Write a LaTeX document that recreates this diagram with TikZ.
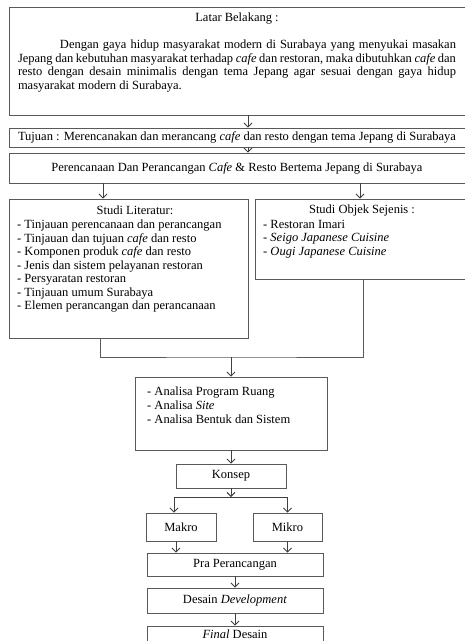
\documentclass[tikz,border=0pt]{standalone}
\usepackage{fontspec}
\setmainfont{Liberation Serif}
\usetikzlibrary{arrows.meta,positioning}

\begin{document}
\begin{tikzpicture}[
  x=1pt, y=-1pt,
  font=\fontsize{12.5}{13.5}\selectfont,
  box/.style={draw=black!65, line width=0.9pt, inner sep=0pt, fill=white},
  txt/.style={inner sep=0pt, align=left},
  arrow/.style={-{Straight Barb[length=4pt,width=8pt]}, line width=0.9pt, draw=black!75},
  link/.style={line width=0.9pt, draw=black!65}
]
\useasboundingbox (0,0) rectangle (465,641);

% latar belakang
\node[box, minimum width=456pt, minimum height=108pt] (latar) at (237,61) {};
\node[txt] (latartitle) at (237,19) {Latar Belakang :};
\node[inner sep=0pt, text width=438pt, align=justify] (latarpara) at (237,66)
  {\hspace*{42pt}Dengan gaya hidup masyarakat modern di Surabaya yang menyukai masakan\linebreak
   Jepang dan kebutuhan masyarakat terhadap \textit{cafe} dan restoran, maka dibutuhkan \textit{cafe} dan\linebreak
   resto dengan desain minimalis dengan tema Jepang agar sesuai dengan gaya hidup\linebreak
   masyarakat modern di Surabaya.};

\node[box, minimum width=456pt, minimum height=19pt] (tujuan) at (237,137.5)
  {Tujuan : Merencanakan dan merancang \textit{cafe} dan resto dengan tema Jepang di Surabaya};
\node[box, minimum width=456pt, minimum height=30pt] (judul) at (237,168)
  {Perencanaan Dan Perancangan \textit{Cafe} \& Resto Bertema Jepang di Surabaya};

\draw[arrow] ([xshift=11pt]latar.south) -- ([xshift=11pt]tujuan.north);
\draw[arrow] ([xshift=11pt]tujuan.south) -- ([xshift=11pt]judul.north);

% studi
\node[box, minimum width=239pt, minimum height=139pt] (literatur) at (128.5,268.5) {};
\node[txt] (littitle) at (135,210) {Studi Literatur:};
\node[txt, anchor=north west] (litlist) at (17,220)
  {- Tinjauan perencanaan dan perancangan\\
   - Tinjauan dan tujuan \textit{cafe} dan resto\\
   - Komponen produk \textit{cafe} dan resto\\
   - Jenis dan sistem pelayanan restoran\\
   - Persyaratan restoran\\
   - Tinjauan umum Surabaya\\
   - Elemen perancangan dan perancanaan};

\node[box, minimum width=210pt, minimum height=80pt] (objek) at (360,239) {};
\node[txt] (objtitle) at (362,210) {Studi Objek Sejenis :};
\node[txt, anchor=north west] (objlist) at (263,220)
  {- Restoran Imari\\
   \textit{- Seigo Japanese Cuisine}\\
   \textit{- Ougi Japanese Cuisine}};

\draw[arrow] ([xshift=-25.5pt]literatur.north |- judul.south) -- ([xshift=-25.5pt]literatur.north);
\draw[arrow] (objek.north |- judul.south) -- (objek.north);

% analisa
\node[box, minimum width=192pt, minimum height=73pt] (analisa) at (231,413.5) {};
\node[txt, anchor=north west] (analist) at (147,387)
  {- Analisa Program Ruang\\
   - Analisa \textit{Site}\\[1pt]
   - Analisa Bentuk dan Sistem};

\coordinate (join) at (231,357);
\draw[link] ([xshift=-28.5pt]literatur.south) |- (join) -| ([xshift=3pt]objek.south);
\draw[arrow] (join) -- (analisa.north);

% konsep
\node[box, minimum width=110pt, minimum height=24pt] (konsep) at (231,476) {Konsep};
\draw[arrow] (analisa.south) -- (konsep.north);

\node[box, minimum width=70pt, minimum height=28pt] (makro) at (181,527) {Makro};
\node[box, minimum width=69pt, minimum height=28pt] (mikro) at (287.5,527) {Mikro};

\coordinate (split) at (231,497);
\draw[arrow] (konsep.south) -- (split);
\draw[arrow] (split) -| ([xshift=-7pt]makro.north);
\draw[arrow] (split) -| (mikro.north);

% perancangan
\node[box, minimum width=176pt, minimum height=23pt] (pra) at (235,564.5) {Pra Perancangan};
\node[box, minimum width=176pt, minimum height=25pt] (devel) at (235,600.5) {Desain \textit{Development}};
\node[box, minimum width=176pt, minimum height=16pt] (final) at (235,634) {\textit{Final} Desain};

\draw[arrow] ([xshift=-5pt]makro.south) -- ([xshift=-5pt]makro.south |- pra.north);
\draw[arrow] (mikro.south) -- (mikro.south |- pra.north);
\draw[arrow] (pra.south) -- (devel.north);
\draw[arrow] (devel.south) -- (final.north);

\end{tikzpicture}
\end{document}
